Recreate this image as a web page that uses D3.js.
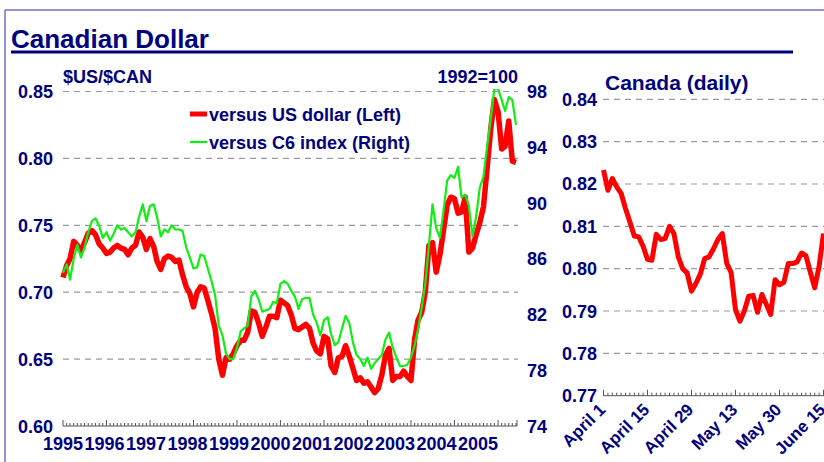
<!DOCTYPE html>
<html><head><meta charset="utf-8">
<script src="https://cdn.jsdelivr.net/npm/d3@7/dist/d3.min.js"></script>
<style>
body{margin:0;background:#fff;}
svg{display:block;font-family:"Liberation Sans",Arial,Helvetica,sans-serif;font-weight:bold;}
</style>
</head><body>
<svg id="c" width="824" height="462"></svg>
<script>
// ---- data ----
const startMonth = new Date(1995, 0, 1);
const usdMonthly = [
  0.711,0.720,0.725,0.738,0.735,0.731,0.737,0.744,0.746,0.743,
  0.736,0.733,0.729,0.730,0.733,0.735,0.733,0.732,0.728,0.733,
  0.735,0.745,0.741,0.732,0.740,0.734,0.723,0.717,0.725,0.727,
  0.726,0.723,0.724,0.713,0.704,0.699,0.689,0.700,0.704,0.703,
  0.694,0.684,0.673,0.650,0.638,0.651,0.650,0.654,0.660,0.664,
  0.664,0.670,0.686,0.685,0.677,0.667,0.674,0.682,0.682,0.681,
  0.694,0.692,0.690,0.683,0.673,0.672,0.674,0.676,0.673,0.662,
  0.656,0.654,0.667,0.665,0.645,0.640,0.651,0.652,0.660,0.652,
  0.643,0.634,0.636,0.632,0.633,0.629,0.625,0.628,0.638,0.653,
  0.658,0.634,0.637,0.637,0.641,0.637,0.634,0.665,0.679,0.685,
  0.700,0.735,0.737,0.715,0.728,0.746,0.765,0.771,0.770,0.759,
  0.760,0.771,0.730,0.733,0.743,0.752,0.764,0.792,0.822,0.844,
  0.835,0.807,0.809,0.828,0.798,0.797
];
const c6Monthly = [
  85.0,85.6,84.5,86.0,87.0,86.1,86.8,87.9,88.7,88.9,
  88.35,87.5,87.9,87.3,87.8,88.4,88.1,88.2,87.9,87.6,
  87.9,89.0,89.9,88.7,89.8,89.9,89.0,87.6,88.1,87.9,
  88.4,88.1,88.1,88.0,86.8,86.1,85.3,85.4,86.3,86.2,
  85.3,84.4,83.4,81.2,80.5,79.2,78.8,78.8,79.6,80.8,
  81.0,81.2,83.3,83.7,83.1,82.2,82.3,82.4,82.9,82.8,
  84.2,84.4,84.2,83.7,83.3,82.4,83.1,83.2,83.2,82.0,
  81.4,80.5,81.6,81.8,80.6,79.8,80.0,81.0,81.9,81.4,
  80.0,79.1,78.8,78.3,78.9,78.1,78.5,78.8,79.1,80.2,
  80.7,79.6,78.9,78.3,78.3,78.4,78.9,79.8,80.9,82.5,
  84.2,87.0,89.9,88.2,87.5,89.4,91.6,92.0,91.8,92.6,
  90.4,90.6,89.8,87.6,89.0,91.1,91.9,94.0,96.0,98.2,
  98.2,97.4,96.6,97.6,97.4,95.6
];
const yearLabels = ["1995","1996","1997","1998","1999","2000","2001","2002","2003","2004","2005"];
const leftTicks = [0.60,0.65,0.70,0.75,0.80,0.85];
const rightTicks = [74,78,82,86,90,94,98];

const dailyValues = [
  0.8233,0.8185,0.8213,0.8193,0.8178,0.8142,0.8110,0.8077,0.8075,0.8053,
  0.8022,0.8020,0.8081,0.8069,0.8071,0.8100,0.8083,0.8028,0.8000,0.7990,
  0.7947,0.7965,0.7987,0.8024,0.8028,0.8047,0.8069,0.8083,0.8013,0.7991,
  0.7903,0.7876,0.7900,0.7935,0.7937,0.7897,0.7939,0.7916,0.7892,0.7974,
  0.7962,0.7968,0.8012,0.8012,0.8016,0.8037,0.8031,0.7992,0.7955,0.8006,
  0.8083
];
const dailyLabels = ["April 1","April 15","April 29","May 13","May 30","June 15"];
const dailyLabelIdx = [0,10,20,30,40,50];
const dailyTicks = [0.77,0.78,0.79,0.80,0.81,0.82,0.83,0.84];

// ---- drawing ----
const NAVY = "#000080";
const svg = d3.select("#c");

// frame
svg.append("line").attr("x1",5).attr("x2",824).attr("y1",10).attr("y2",10)
  .attr("stroke","#6e6ec8").attr("stroke-width",1.5);
svg.append("line").attr("x1",5).attr("x2",5).attr("y1",10).attr("y2",462)
  .attr("stroke","#6e6ec8").attr("stroke-width",1.5);

// title
svg.append("text").attr("x",11).attr("y",48).attr("font-size",26).attr("fill",NAVY)
  .text("Canadian Dollar");
svg.append("rect").attr("x",11).attr("y",50.5).attr("width",782).attr("height",3).attr("fill",NAVY);

// ---- left chart ----
const months = usdMonthly.map((_, i) => d3.timeMonth.offset(startMonth, i));
const endMonth = months[months.length - 1];
const x = d3.scaleTime().domain([startMonth, endMonth]).range([63, 516]);
const yL = d3.scaleLinear().domain([0.60, 0.85]).range([426, 91.5]);
const yR = d3.scaleLinear().domain([74, 98]).range([426, 91.5]);
const xYear = d3.scalePoint().domain(yearLabels).range([63, 478]);

const gl = svg.append("g");
gl.selectAll("line.grid").data(leftTicks.filter(v => v > 0.6)).join("line")
  .attr("x1",63).attr("x2",518).attr("y1",d=>yL(d)).attr("y2",d=>yL(d))
  .attr("stroke","#9a9a9a").attr("stroke-width",1.2).attr("stroke-dasharray","6,5");
gl.selectAll("text.yl").data(leftTicks).join("text")
  .attr("x",53).attr("y",d=>yL(d)+6.5).attr("text-anchor","end")
  .attr("font-size",18).attr("fill",NAVY).text(d=>d3.format(".2f")(d));
gl.selectAll("text.yr").data(rightTicks).join("text")
  .attr("x",527).attr("y",d=>yR(d)+6.5).attr("text-anchor","start")
  .attr("font-size",18).attr("fill",NAVY).text(d=>d);
gl.append("text").attr("x",63).attr("y",83).attr("font-size",18).attr("fill",NAVY).text("$US/$CAN");
gl.append("text").attr("x",518).attr("y",83).attr("text-anchor","end").attr("font-size",18).attr("fill",NAVY).text("1992=100");

// x axis
const axY = yL(0.60);
gl.append("line").attr("x1",63).attr("x2",517).attr("y1",axY).attr("y2",axY)
  .attr("stroke","#555").attr("stroke-width",1);
const tickMonths = d3.timeMonth.range(startMonth, d3.timeMonth.offset(endMonth, 1));
gl.selectAll("line.tk").data(tickMonths).join("line")
  .attr("x1",d=>x(d)).attr("x2",d=>x(d))
  .attr("y1",axY).attr("y2",d=>d.getMonth()===0 ? axY-6 : axY-3)
  .attr("stroke","#555").attr("stroke-width",1);
gl.append("line").attr("x1",517).attr("x2",517).attr("y1",axY).attr("y2",axY-6)
  .attr("stroke","#555").attr("stroke-width",1);
gl.selectAll("text.yr2").data(yearLabels).join("text")
  .attr("x",d=>xYear(d)).attr("y",450).attr("text-anchor","middle")
  .attr("font-size",18).attr("fill",NAVY).text(d=>d);

// clip
svg.append("defs").append("clipPath").attr("id","clipL")
  .append("rect").attr("x",55).attr("y",89).attr("width",470).attr("height",345);

const lineUsd = d3.line().x((d,i)=>x(months[i])).y(d=>yL(d));
const lineC6 = d3.line().x((d,i)=>x(months[i])).y(d=>yR(d));
const lines = gl.append("g").attr("clip-path","url(#clipL)");
lines.append("path").datum(usdMonthly).attr("d",lineUsd)
  .attr("fill","none").attr("stroke","#ff0000").attr("stroke-width",5.5)
  .attr("stroke-linejoin","round");
lines.append("path").datum(c6Monthly).attr("d",lineC6)
  .attr("fill","none").attr("stroke","#11ee11").attr("stroke-width",2.2)
  .attr("stroke-linejoin","round");

// legend
const leg = gl.append("g");
leg.append("line").attr("x1",190).attr("x2",207).attr("y1",114).attr("y2",114)
  .attr("stroke","#ff0000").attr("stroke-width",5);
leg.append("text").attr("x",209).attr("y",120.5).attr("font-size",18).attr("fill",NAVY)
  .text("versus US dollar (Left)");
leg.append("line").attr("x1",190).attr("x2",207).attr("y1",142).attr("y2",142)
  .attr("stroke","#11ee11").attr("stroke-width",2.2);
leg.append("text").attr("x",209).attr("y",148.5).attr("font-size",18).attr("fill",NAVY)
  .text("versus C6 index (Right)");

// ---- right chart ----
const gr = svg.append("g");
const xD = d3.scaleLinear().domain([0, dailyValues.length - 1]).range([603.5, 823.5]);
const yD = d3.scaleLinear().domain([0.77, 0.84]).range([395.7, 99.3]);

gr.selectAll("line.grid").data(dailyTicks.filter(v => v > 0.775)).join("line")
  .attr("x1",603).attr("x2",824).attr("y1",d=>yD(d)).attr("y2",d=>yD(d))
  .attr("stroke","#9a9a9a").attr("stroke-width",1.2).attr("stroke-dasharray","6,5");
gr.selectAll("text.yl").data(dailyTicks).join("text")
  .attr("x",597).attr("y",d=>yD(d)+6.5).attr("text-anchor","end")
  .attr("font-size",18).attr("fill",NAVY).text(d=>d3.format(".2f")(d));
gr.append("text").attr("x",605).attr("y",90).attr("font-size",21).attr("fill",NAVY)
  .text("Canada (daily)");

const axD = yD(0.77);
gr.append("line").attr("x1",603).attr("x2",824).attr("y1",axD).attr("y2",axD)
  .attr("stroke","#555").attr("stroke-width",1);
gr.selectAll("line.tk").data(d3.range(dailyValues.length)).join("line")
  .attr("x1",d=>xD(d)).attr("x2",d=>xD(d))
  .attr("y1",axD).attr("y2",d=>dailyLabelIdx.includes(d) ? axD-6 : axD-3)
  .attr("stroke","#555").attr("stroke-width",1);
gr.selectAll("text.xl").data(dailyLabels).join("text")
  .attr("transform",(d,i)=>`translate(${xD(dailyLabelIdx[i])+3},${axD+15}) rotate(-45)`)
  .attr("text-anchor","end").attr("font-size",17).attr("fill",NAVY).text(d=>d);

const lineD = d3.line().x((d,i)=>xD(i)).y(d=>yD(d));
gr.append("path").datum(dailyValues).attr("d",lineD)
  .attr("fill","none").attr("stroke","#ff0000").attr("stroke-width",5)
  .attr("stroke-linejoin","round");
</script>
</body></html>
